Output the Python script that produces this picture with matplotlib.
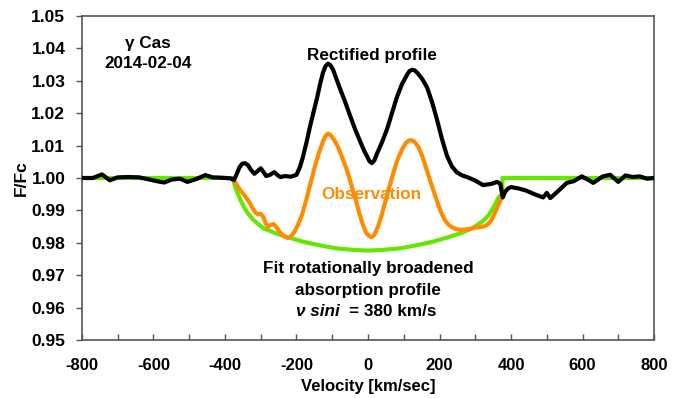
import matplotlib
matplotlib.use("Agg")
import matplotlib.pyplot as plt
from matplotlib.ticker import MultipleLocator, FormatStrFormatter

plt.rcParams['font.family'] = ['Liberation Sans', 'DejaVu Sans']
plt.rcParams['font.weight'] = 'bold'
plt.rcParams['axes.unicode_minus'] = False

# Rectified profile (black)
rect_v = [-800, -770, -744, -722, -700, -670, -640, -610, -590, -570, -550, -526,
          -505, -480, -455, -435, -410, -385, -375, -368, -360, -352, -344, -336,
          -328, -318, -308, -300, -292, -285, -274, -262, -252, -245, -232, -215,
          -200, -190, -182, -172, -162, -152, -143, -134, -126, -119, -112, -105,
          -98, -88, -78, -64, -50, -36, -22, -10, -3, 4, 11, 18, 25, 39, 53, 67,
          81, 95, 109, 116, 123, 131, 140, 152, 165, 179, 193, 207, 221, 235, 249,
          263, 277, 300, 322, 345, 361, 370, 377, 384, 392, 400, 420, 440, 470,
          490, 500, 510, 530, 556, 575, 598, 615, 630, 655, 677, 700, 720, 740,
          760, 780, 800]
rect_f = [1.0000, 1.0000, 1.0011, 0.9993, 1.0002, 1.0003, 1.0002, 0.9995, 0.9990,
          0.9986, 0.9995, 0.9998, 0.9988, 0.9997, 1.0009, 1.0002, 1.0001, 0.9999,
          0.9994, 1.0010, 1.0032, 1.0044, 1.0046, 1.0040, 1.0026, 1.0013, 1.0022,
          1.0030, 1.0018, 1.0006, 1.0010, 1.0018, 1.0008, 1.0003, 1.0006, 1.0004,
          1.0010, 1.0035, 1.0065, 1.0110, 1.0160, 1.0205, 1.0245, 1.0290, 1.0325,
          1.0345, 1.0353, 1.0348, 1.0335, 1.0305, 1.0275, 1.0235, 1.0192, 1.0150,
          1.0113, 1.0082, 1.0068, 1.0052, 1.0046, 1.0055, 1.0075, 1.0110, 1.0150,
          1.0200, 1.0250, 1.0290, 1.0318, 1.0330, 1.0334, 1.0332, 1.0322, 1.0305,
          1.0280, 1.0235, 1.0180, 1.0120, 1.0068, 1.0035, 1.0017, 1.0008, 1.0003,
          0.9992, 0.9978, 0.9982, 0.9988, 0.9982, 0.9940, 0.9958, 0.9968, 0.9972,
          0.9968, 0.9962, 0.9948, 0.9940, 0.9954, 0.9938, 0.9958, 0.9985, 0.9990,
          1.0005, 0.9995, 0.9985, 1.0004, 1.0010, 0.9988, 1.0008, 1.0003, 1.0005,
          0.9998, 1.0000]

# Observed profile (orange)
obs_v = [-378, -372, -365, -357, -348, -338, -330, -322, -315, -308, -300, -293,
         -286, -280, -272, -264, -256, -248, -240, -232, -224, -215, -205, -195,
         -185, -172, -163, -154, -145, -135, -125, -118, -112, -105, -95, -85,
         -75, -59, -47, -35, -24, -14, -5, 4, 11, 18, 28, 38, 48, 59, 70, 82, 95,
         105, 114, 120, 128, 140, 150, 160, 173, 185, 195, 205, 215, 225, 235,
         247, 257, 270, 285, 300, 315, 325, 333, 342, 350, 360, 368, 376]
obs_f = [1.0000, 0.9988, 0.9975, 0.9962, 0.9950, 0.9935, 0.9922, 0.9905, 0.9893,
         0.9888, 0.9890, 0.9880, 0.9860, 0.9850, 0.9855, 0.9858, 0.9848, 0.9835,
         0.9825, 0.9818, 0.9815, 0.9820, 0.9835, 0.9858, 0.9885, 0.9935, 0.9975,
         1.0012, 1.0050, 1.0085, 1.0115, 1.0132, 1.0137, 1.0133, 1.0118, 1.0098,
         1.0072, 1.0025, 0.9980, 0.9935, 0.9890, 0.9855, 0.9830, 0.9820, 0.9818,
         0.9825, 0.9850, 0.9885, 0.9925, 0.9970, 1.0012, 1.0055, 1.0088, 1.0107,
         1.0116, 1.0117, 1.0114, 1.0098, 1.0073, 1.0040, 0.9994, 0.9955, 0.9922,
         0.9893, 0.9870, 0.9856, 0.9848, 0.9842, 0.9840, 0.9841, 0.9843, 0.9847,
         0.9849, 0.9851, 0.9855, 0.9865, 0.9880, 0.9905, 0.9925, 0.9945]

# Rotationally broadened fit (green)
fit_v = [-800, -378, -376, -373, -369, -363, -355, -346, -335, -320, -294, -260,
         -227, -180, -134, -90, -42, 0, 42, 90, 134, 180, 227, 260, 294, 320,
         335, 346, 355, 363, 369, 376, 376, 800]
fit_f = [1.0000, 1.0000, 0.9990, 0.9978, 0.9965, 0.9948, 0.9928, 0.9908, 0.9890,
         0.9870, 0.9846, 0.9830, 0.9818, 0.9803, 0.9792, 0.9783, 0.9778, 0.9776,
         0.9778, 0.9783, 0.9792, 0.9803, 0.9818, 0.9830, 0.9846, 0.9866, 0.9882,
         0.9900, 0.9918, 0.9935, 0.9945, 0.9948, 1.0000, 1.0000]

x_ticks = [-800, -600, -400, -200, 0, 200, 400, 600, 800]

fig = plt.figure(figsize=(6.86, 3.98), dpi=100)
ax = fig.add_axes([0.1195, 0.1457, 0.8339, 0.8141])

kw = dict(lw=3.0, solid_joinstyle='round', solid_capstyle='round')
ax.plot(fit_v, fit_f, color='#66e600', zorder=2, **kw)
ax.plot(obs_v, obs_f, color='#ff8c00', zorder=3, **kw)
ax.plot(rect_v, rect_f, color='black', zorder=4, **kw)

ax.set_xlim(-800, 800)
ax.set_ylim(0.95, 1.05)
ax.set_xticks(x_ticks)
ax.xaxis.set_minor_locator(MultipleLocator(100))
ax.yaxis.set_major_locator(MultipleLocator(0.01))
ax.yaxis.set_major_formatter(FormatStrFormatter('%.2f'))

ax.tick_params(axis='x', which='both', direction='in', length=4, width=1,
               color='#555555', labelsize=12, pad=13)
ax.tick_params(axis='y', which='major', direction='out', length=4, width=1,
               color='#555555', labelsize=12.5, pad=8)
for s in ax.spines.values():
    s.set_color('#555555')
    s.set_linewidth(1.2)

ax.set_xlabel('Velocity [km/sec]', fontsize=12, fontweight='bold', labelpad=4)
ax.set_ylabel('F/Fc', fontsize=12.5, fontweight='bold', labelpad=2)

tk = dict(va='center', fontsize=12.3, fontweight='bold')
ax.text(-615, 1.0415, 'γ Cas', ha='center', **tk)
ax.text(-615, 1.0353, '2014-02-04', ha='center', **tk)
ax.text(12, 1.0378, 'Rectified profile', ha='center', color='black', zorder=5, **tk)
ax.text(8, 0.9950, 'Observation', ha='center', color='#ff8c00', zorder=5, **tk)
ax.text(0, 0.9722, 'Fit rotationally broadened', ha='center', **tk)
ax.text(0, 0.9654, 'absorption profile', ha='center', **tk)
ax.text(-80, 0.9589, 'ν sini', ha='right', style='italic', **tk)
ax.text(-52, 0.9589, '= 380 km/s', ha='left', **tk)

fig.savefig('out.png', dpi=100)
